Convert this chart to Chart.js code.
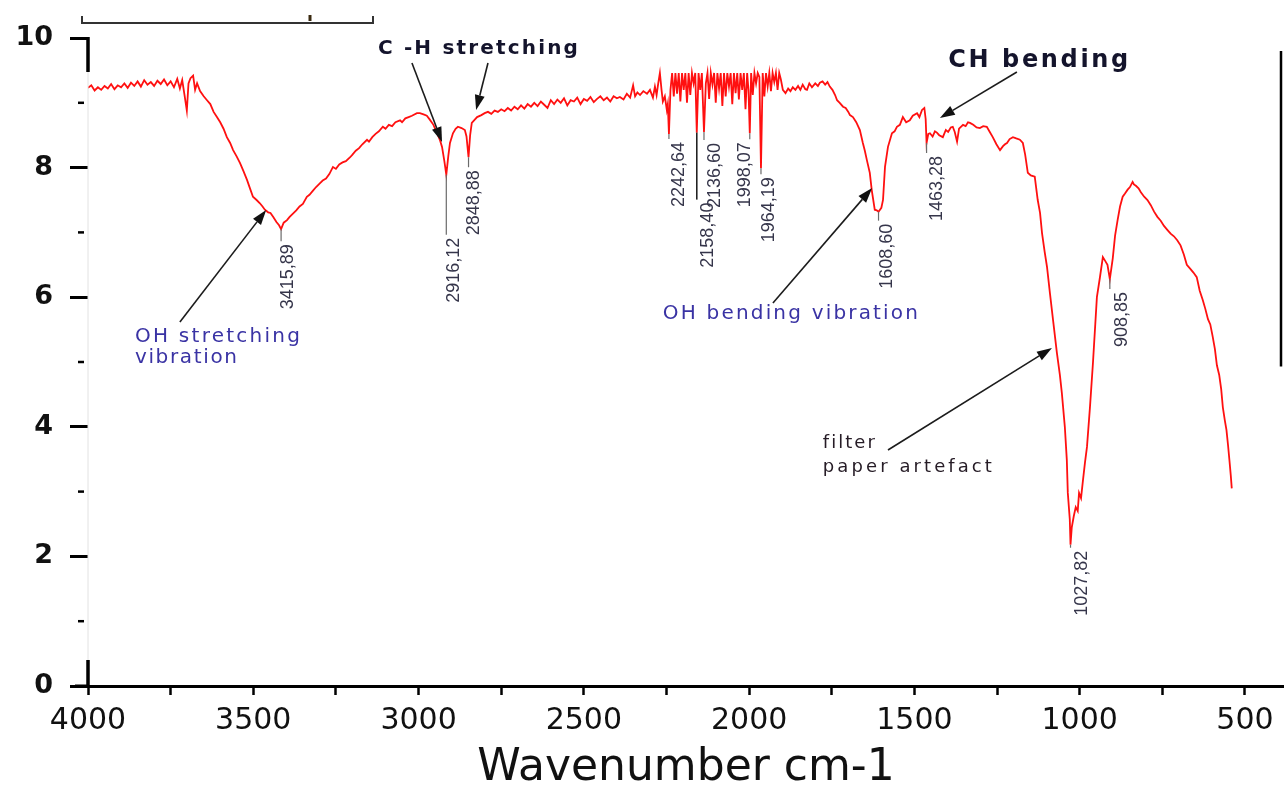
<!DOCTYPE html>
<html>
<head>
<meta charset="utf-8">
<script src="https://cdn.jsdelivr.net/npm/chart.js@4.4.1/dist/chart.umd.min.js"></script>
<style>
  html, body { margin: 0; padding: 0; background: #ffffff; }
  canvas { display: block; }
</style>
</head>
<body>
<canvas id="ftir" width="1284" height="786"></canvas>
<script>
// FTIR spectrum: wavenumber (cm-1) and transmittance
const wavenumbers = [
  4000, 3990, 3980, 3970, 3960, 3950, 3940, 3930, 3920, 3910,
  3900, 3890, 3880, 3870, 3860, 3850, 3840, 3830, 3820, 3810,
  3800, 3790, 3780, 3770, 3760, 3750, 3740, 3730, 3722, 3715,
  3708, 3701, 3696, 3690, 3682, 3676, 3670, 3661, 3650, 3640,
  3630, 3620, 3610, 3600, 3590, 3580, 3570, 3561, 3550, 3540,
  3530, 3519, 3510, 3501, 3490, 3480, 3472, 3465, 3455, 3448,
  3440, 3430, 3422, 3415.89, 3408, 3398, 3390, 3380, 3370, 3360,
  3350, 3338, 3330, 3320, 3310, 3298, 3290, 3280, 3270, 3259,
  3250, 3240, 3230, 3220, 3207, 3200, 3190, 3180, 3170, 3156,
  3150, 3140, 3130, 3120, 3108, 3100, 3090, 3080, 3070, 3056,
  3050, 3040, 3030, 3020, 3005, 2996, 2985, 2975, 2966, 2955,
  2944, 2935, 2929, 2922, 2916.12, 2910, 2905, 2896, 2888, 2881,
  2870, 2860, 2855, 2848.88, 2844, 2839, 2830, 2823, 2810, 2800,
  2790, 2780, 2770, 2760, 2750, 2740, 2730, 2720, 2710, 2700,
  2690, 2680, 2670, 2660, 2650, 2640, 2630, 2620, 2610, 2600,
  2590, 2580, 2570, 2560, 2550, 2540, 2530, 2520, 2510, 2500,
  2490, 2480, 2470, 2460, 2450, 2440, 2430, 2420, 2410, 2400,
  2391, 2380, 2370, 2360, 2351, 2345, 2338, 2330, 2320, 2309,
  2300, 2291, 2285, 2280, 2275, 2270, 2265, 2261, 2255, 2249,
  2246, 2242.64, 2238, 2233, 2228, 2223, 2218, 2213, 2208, 2203,
  2198, 2193, 2188, 2183, 2178, 2173, 2168, 2163, 2158.40, 2153,
  2148, 2143, 2136.60, 2131, 2126, 2121, 2116, 2111, 2106, 2101,
  2096, 2091, 2086, 2081, 2076, 2071, 2066, 2061, 2056, 2051,
  2046, 2041, 2036, 2031, 2026, 2021, 2016, 2011, 2006, 2002,
  1998.07, 1994, 1989, 1984, 1979, 1974, 1969, 1964.19, 1959, 1954,
  1949, 1944, 1939, 1934, 1929, 1924, 1919, 1914, 1909, 1904,
  1898, 1890, 1882, 1875, 1868, 1860, 1852, 1845, 1838, 1830,
  1825, 1818, 1810, 1800, 1792, 1786, 1778, 1770, 1763, 1756,
  1748, 1740, 1734, 1726, 1716, 1708, 1700, 1695, 1686, 1676,
  1665, 1656, 1650, 1644, 1635, 1629, 1620, 1614, 1608.60, 1600,
  1595, 1589, 1580, 1568, 1560, 1553, 1544, 1535, 1525, 1514,
  1505, 1492, 1485, 1477, 1470, 1466, 1463.28, 1458, 1453, 1445,
  1438, 1432, 1425, 1414, 1405, 1398, 1390, 1384, 1378, 1371,
  1365, 1353, 1345, 1338, 1332, 1322, 1312, 1302, 1292, 1281,
  1272, 1263, 1252, 1241, 1232, 1226, 1220, 1212, 1202, 1192,
  1181, 1172, 1165, 1157, 1148, 1136, 1127, 1120, 1114, 1106,
  1099, 1090, 1080, 1069, 1060, 1054, 1045, 1039, 1036, 1030,
  1027.82, 1024, 1018, 1012, 1006, 1002, 996, 990, 984, 978,
  969, 960, 948, 939, 930, 923, 916, 908.85, 900, 893,
  885, 878, 870, 863, 855, 848, 840, 836, 830, 822,
  815, 805, 795, 785, 775, 765, 755, 745, 735, 725,
  715, 705, 695, 685, 676, 666, 656, 646, 637, 628,
  620, 612, 605, 598, 591, 585, 578, 572, 567, 561,
  556, 551, 547, 543, 540
];

const transmittance = [
  9.23, 9.27, 9.19, 9.24, 9.20, 9.26, 9.22, 9.29, 9.21, 9.27,
  9.24, 9.30, 9.23, 9.31, 9.26, 9.33, 9.25, 9.35, 9.28, 9.32,
  9.26, 9.34, 9.29, 9.36, 9.27, 9.33, 9.24, 9.37, 9.22, 9.35,
  9.12, 8.88, 9.30, 9.38, 9.42, 9.20, 9.30, 9.18, 9.10, 9.04,
  8.98, 8.86, 8.78, 8.70, 8.60, 8.47, 8.38, 8.27, 8.17, 8.07,
  7.95, 7.81, 7.68, 7.55, 7.50, 7.45, 7.40, 7.35, 7.31, 7.30,
  7.24, 7.16, 7.11, 7.05, 7.15, 7.19, 7.24, 7.29, 7.34, 7.40,
  7.44, 7.55, 7.58, 7.64, 7.70, 7.76, 7.80, 7.83, 7.90, 8.01,
  7.98, 8.05, 8.08, 8.10, 8.16, 8.20, 8.26, 8.30, 8.36, 8.43,
  8.40, 8.47, 8.52, 8.56, 8.63, 8.60, 8.66, 8.64, 8.70, 8.73,
  8.70, 8.76, 8.78, 8.80, 8.84, 8.84, 8.82, 8.80, 8.74, 8.66,
  8.53, 8.42, 8.32, 8.10, 7.89, 8.18, 8.38, 8.53, 8.60, 8.63,
  8.61, 8.58, 8.48, 8.16, 8.50, 8.69, 8.74, 8.78, 8.81, 8.84,
  8.86, 8.83, 8.88, 8.86, 8.90, 8.87, 8.92, 8.88, 8.94, 8.90,
  8.96, 8.91, 8.98, 8.94, 9.00, 8.95, 9.02, 8.97, 8.92, 9.04,
  8.98, 9.05, 9.00, 9.07, 8.96, 9.04, 9.02, 9.08, 8.98, 9.06,
  9.03, 9.09, 9.01, 9.06, 9.10, 9.04, 9.08, 9.02, 9.10, 9.07,
  9.09, 9.05, 9.14, 9.08, 9.27, 9.10, 9.16, 9.12, 9.18, 9.14,
  9.20, 9.08, 9.25, 9.12, 9.30, 9.46, 9.20, 9.02, 9.10, 8.89,
  8.98, 8.52, 9.20, 9.46, 9.10, 9.46, 9.14, 9.46, 9.02, 9.46,
  9.20, 9.46, 9.00, 9.46, 9.12, 9.46, 9.30, 9.46, 8.54, 9.46,
  9.20, 9.46, 8.55, 9.30, 9.46, 9.06, 9.46, 9.28, 9.46, 9.00,
  9.46, 9.22, 9.46, 8.95, 9.46, 9.10, 9.46, 9.25, 9.46, 8.98,
  9.46, 9.15, 9.46, 9.05, 9.46, 9.20, 9.46, 8.90, 9.46, 9.20,
  8.53, 9.46, 9.12, 9.46, 9.30, 9.46, 9.40, 7.99, 9.46, 9.10,
  9.46, 9.25, 9.46, 9.18, 9.46, 9.32, 9.46, 9.20, 9.46, 9.36,
  9.20, 9.15, 9.22, 9.18, 9.24, 9.20, 9.26, 9.20, 9.28, 9.21,
  9.20, 9.30, 9.24, 9.30, 9.26, 9.31, 9.33, 9.28, 9.32, 9.25,
  9.20, 9.12, 9.04, 9.00, 8.94, 8.92, 8.86, 8.81, 8.78, 8.70,
  8.58, 8.38, 8.26, 8.12, 7.92, 7.65, 7.35, 7.34, 7.32, 7.38,
  7.50, 8.01, 8.32, 8.53, 8.56, 8.63, 8.66, 8.78, 8.70, 8.73,
  8.80, 8.84, 8.78, 8.89, 8.92, 8.75, 8.38, 8.52, 8.53, 8.48,
  8.56, 8.54, 8.50, 8.47, 8.58, 8.55, 8.62, 8.63, 8.55, 8.40,
  8.60, 8.66, 8.64, 8.70, 8.69, 8.66, 8.62, 8.61, 8.64, 8.63,
  8.55, 8.47, 8.36, 8.27, 8.33, 8.36, 8.38, 8.44, 8.47, 8.45,
  8.43, 8.38, 8.20, 7.92, 7.88, 7.86, 7.50, 7.30, 6.99, 6.70,
  6.47, 6.06, 5.62, 5.14, 4.80, 4.52, 4.00, 3.49, 2.98, 2.57,
  2.18, 2.45, 2.62, 2.76, 2.70, 2.98, 2.90, 3.18, 3.45, 3.69,
  4.30, 4.98, 6.00, 6.30, 6.62, 6.56, 6.50, 6.28, 6.60, 6.95,
  7.20, 7.40, 7.55, 7.60, 7.66, 7.70, 7.78, 7.74, 7.72, 7.68,
  7.62, 7.55, 7.50, 7.42, 7.32, 7.24, 7.18, 7.10, 7.04, 6.98,
  6.94, 6.88, 6.80, 6.66, 6.50, 6.44, 6.38, 6.31, 6.10, 5.96,
  5.82, 5.66, 5.58, 5.40, 5.20, 4.95, 4.80, 4.58, 4.30, 4.10,
  3.95, 3.70, 3.48, 3.25, 3.05
];

// Labelled absorption bands (wavenumbers present in the series above)
const peakWavenumbers = [3415.89, 2916.12, 2848.88, 2242.64, 2158.40, 2136.60, 1998.07, 1964.19, 1608.60, 1463.28, 1027.82, 908.85];

// Axis ticks
const xTickStep = 250;
const xLabelStep = 500;
const yTickStep = 1;
const yLabelStep = 2;
const axisTitle = 'Wavenumber cm-1';

// Leader line length (px) and label offset (px) for each band label
const leaderLength = { '3415.89': 12, '2916.12': 60, '2848.88': 10, '2242.64': 5, '2158.40': 67, '2136.60': 8, '1998.07': 6, '1964.19': 6, '1608.60': 9, '1463.28': 10, '1027.82': 3, '908.85': 10 };
const labelShift  = { '3415.89': 7, '2916.12': 8, '2848.88': 6, '2242.64': 10, '2158.40': 11, '2136.60': 11, '1998.07': -5, '1964.19': 8, '1608.60': 9, '1463.28': 10, '1027.82': 12, '908.85': 12 };

function bandLabel(w) {
  return w.toFixed(2).replace('.', ',');
}

function drawArrow(ctx, x1, y1, x2, y2) {
  const ang = Math.atan2(y2 - y1, x2 - x1);
  const headLen = 15, headW = 5;
  const bx = x2 - headLen * Math.cos(ang), by = y2 - headLen * Math.sin(ang);
  ctx.beginPath();
  ctx.moveTo(x1, y1);
  ctx.lineTo(bx, by);
  ctx.stroke();
  ctx.beginPath();
  ctx.moveTo(x2, y2);
  ctx.lineTo(bx + headW * Math.sin(ang), by - headW * Math.cos(ang));
  ctx.lineTo(bx - headW * Math.sin(ang), by + headW * Math.cos(ang));
  ctx.closePath();
  ctx.fill();
}

function spacedText(ctx, text, x, y, font, width, color) {
  ctx.save();
  ctx.font = font;
  ctx.letterSpacing = '0px';
  const natural = ctx.measureText(text).width;
  const gap = Math.max(0, (width - natural) / Math.max(1, text.length - 1));
  ctx.letterSpacing = gap.toFixed(2) + 'px';
  ctx.fillStyle = color;
  ctx.textAlign = 'left';
  ctx.textBaseline = 'middle';
  ctx.fillText(text, x, y);
  ctx.restore();
}

const spectrumDecor = {
  id: 'spectrumDecor',
  afterDatasetsDraw(chart) {
    const ctx = chart.ctx;
    const xs = chart.scales.x, ys = chart.scales.y;
    ctx.save();
    peakWavenumbers.forEach(w => {
      const i = wavenumbers.indexOf(w);
      const key = w.toFixed(2);
      const px = xs.getPixelForValue(w);
      const py = ys.getPixelForValue(transmittance[i]);
      const len = leaderLength[key];
      ctx.strokeStyle = key === '2158.40' ? '#222222' : '#6a6a6a';
      ctx.lineWidth = key === '2158.40' ? 1.6 : 1.2;
      ctx.beginPath();
      ctx.moveTo(px, py);
      ctx.lineTo(px, py + len);
      ctx.stroke();
      ctx.save();
      ctx.translate(px + labelShift[key], py + len + 3);
      ctx.rotate(-Math.PI / 2);
      ctx.font = '18px "Liberation Sans", Arial, sans-serif';
      ctx.fillStyle = '#35354a';
      ctx.textAlign = 'right';
      ctx.textBaseline = 'middle';
      ctx.fillText(bandLabel(w), 0, 0);
      ctx.restore();
    });
    ctx.restore();
  },
  afterDraw(chart) {
    const ctx = chart.ctx;
    const xs = chart.scales.x, ys = chart.scales.y;
    const area = chart.chartArea;
    const X = v => xs.getPixelForValue(v);
    const Y = v => ys.getPixelForValue(v);
    ctx.save();

    // left axis: faint middle, solid ends
    const ax = area.left;
    ctx.strokeStyle = '#e2e2e2';
    ctx.lineWidth = 1;
    ctx.beginPath(); ctx.moveTo(ax, Y(10)); ctx.lineTo(ax, Y(0)); ctx.stroke();
    ctx.strokeStyle = '#000';
    ctx.lineWidth = 3.5;
    ctx.beginPath(); ctx.moveTo(ax, Y(10) - 1); ctx.lineTo(ax, Y(10) + 34); ctx.stroke();
    ctx.beginPath(); ctx.moveTo(ax, Y(0) - 26); ctx.lineTo(ax, Y(0)); ctx.stroke();

    // minor ticks on the value axis
    ctx.lineWidth = 2.5;
    for (let v = 1; v < 10; v += 2) {
      ctx.beginPath(); ctx.moveTo(ax - 10, Y(v)); ctx.lineTo(ax - 4, Y(v)); ctx.stroke();
    }

    // bottom axis extends a little past the left axis
    ctx.lineWidth = 3;
    ctx.beginPath(); ctx.moveTo(ax - 13, Y(0)); ctx.lineTo(ax, Y(0)); ctx.stroke();

    // right frame edge
    ctx.lineWidth = 2.5;
    ctx.beginPath(); ctx.moveTo(area.right - 3, Y(9.8)); ctx.lineTo(area.right - 3, Y(4.93)); ctx.stroke();

    // bracket above the plot
    ctx.strokeStyle = '#333';
    ctx.lineWidth = 2;
    ctx.beginPath();
    ctx.moveTo(ax - 6, 16); ctx.lineTo(ax - 6, 23); ctx.lineTo(373, 23); ctx.lineTo(373, 16);
    ctx.stroke();
    ctx.strokeStyle = '#3a2a10';
    ctx.lineWidth = 3;
    ctx.beginPath(); ctx.moveTo(310, 15); ctx.lineTo(310, 21); ctx.stroke();

    // annotation arrows
    ctx.strokeStyle = '#1c1c1c';
    ctx.fillStyle = '#111';
    ctx.lineWidth = 1.6;
    drawArrow(ctx, X(3722), Y(5.617), X(3461), Y(7.346));
    drawArrow(ctx, X(3020), Y(9.614), X(2929), Y(8.395));
    drawArrow(ctx, X(2790), Y(9.614), X(2826), Y(8.889));
    drawArrow(ctx, X(1190), Y(9.475), X(1423), Y(8.765));
    drawArrow(ctx, X(1928), Y(5.91), X(1628), Y(7.685));
    drawArrow(ctx, X(1580), Y(3.642), X(1084), Y(5.216));

    // annotation texts
    const bold20 = 'bold 20px "DejaVu Sans", sans-serif';
    const bold24 = 'bold 24px "DejaVu Sans", sans-serif';
    const reg20 = '20px "DejaVu Sans", sans-serif';
    const reg18 = '18px "DejaVu Sans", sans-serif';
    spacedText(ctx, 'C -H stretching', X(3123), Y(9.83), bold20, 200, '#14142c');
    spacedText(ctx, 'CH bending', X(1398), Y(9.645), bold24, 180, '#14142c');
    spacedText(ctx, 'OH stretching', X(3858), Y(5.386), reg20, 165, '#3a33a4');
    spacedText(ctx, 'vibration', X(3858), Y(5.06), reg20, 102, '#3a33a4');
    spacedText(ctx, 'OH bending vibration', X(2261), Y(5.74), reg20, 255, '#3a33a4');
    spacedText(ctx, 'filter', X(1777), Y(3.75), reg18, 52, '#261c26');
    spacedText(ctx, 'paper artefact', X(1777), Y(3.38), reg18, 169, '#261c26');

    ctx.restore();
  }
};

const points = wavenumbers.map((w, i) => ({ x: w, y: transmittance[i] }));

new Chart(document.getElementById('ftir'), {
  type: 'line',
  data: {
    datasets: [{
      data: points,
      borderColor: '#ff1010',
      borderWidth: 1.8,
      pointRadius: 0,
      tension: 0,
      fill: false
    }]
  },
  options: {
    responsive: false,
    animation: false,
    devicePixelRatio: 1,
    layout: { padding: { top: 38, right: 0, left: 0, bottom: 0 } },
    plugins: { legend: { display: false }, tooltip: { enabled: false } },
    scales: {
      x: {
        type: 'linear',
        reverse: true,
        min: 382,
        max: 4000,
        afterFit(scale) { scale.height = 100; },
        border: { display: true, color: '#000', width: 3 },
        grid: { drawOnChartArea: false, drawTicks: true, tickLength: 9, tickWidth: 2.5, tickColor: '#000' },
        ticks: {
          stepSize: xTickStep,
          autoSkip: false,
          maxRotation: 0,
          includeBounds: false,
          padding: 8,
          color: '#111',
          font: { family: '"DejaVu Sans", sans-serif', size: 30 },
          callback: v => (v % xLabelStep === 0 ? String(v) : '')
        },
        title: {
          display: true,
          text: axisTitle,
          color: '#111',
          padding: 0,
          font: { family: '"DejaVu Sans", sans-serif', size: 44, lineHeight: 0.8 }
        }
      },
      y: {
        min: 0,
        max: 10,
        afterFit(scale) { scale.width = 88; },
        border: { display: false },
        grid: {
          drawOnChartArea: false,
          drawTicks: true,
          tickLength: 18,
          tickWidth: c => (c.tick && c.tick.value % yLabelStep === 0 ? 3 : 0),
          tickColor: c => (c.tick && c.tick.value % yLabelStep === 0 ? '#000' : 'rgba(0,0,0,0)')
        },
        ticks: {
          stepSize: yTickStep,
          autoSkip: false,
          includeBounds: false,
          padding: 17,
          color: '#111',
          font: { family: '"DejaVu Sans", sans-serif', size: 27, weight: 'bold' },
          callback: v => (v % yLabelStep === 0 ? String(v) : '')
        }
      }
    }
  },
  plugins: [spectrumDecor]
});
</script>
</body>
</html>
